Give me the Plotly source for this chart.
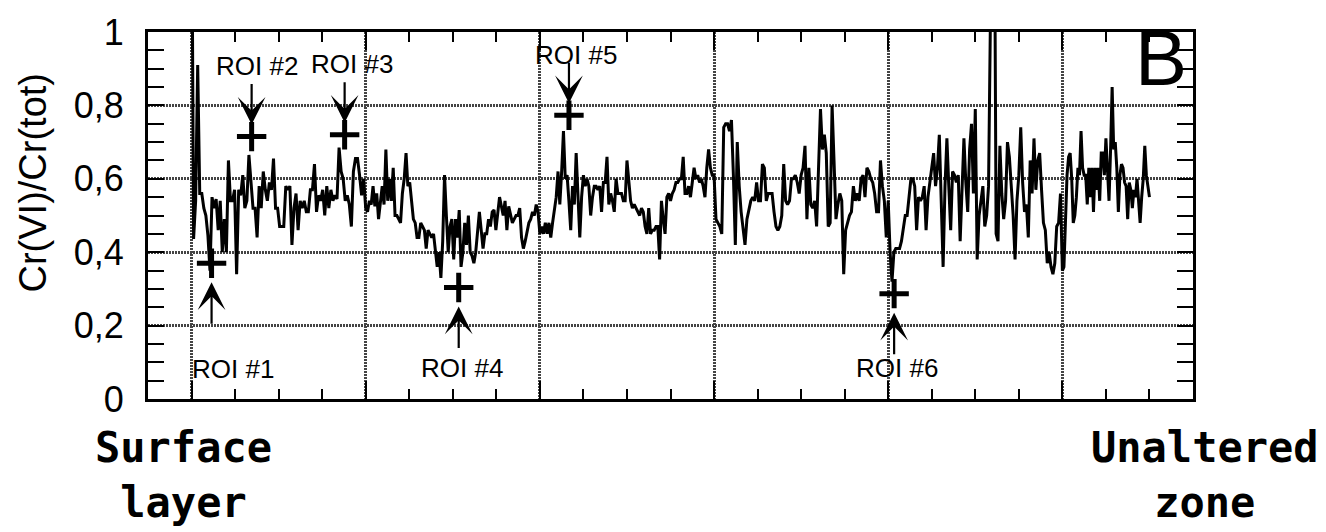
import numpy as np
import plotly.graph_objects as go

# Cr(VI)/Cr(tot) profile, one list per 100-unit depth interval
seg_0_100 = [1.5, 0.436, 0.54, 0.91, 0.56, 0.56, 0.52, 0.50, 0.445, 0.35,
             0.55, 0.52, 0.545, 0.46, 0.54, 0.40, 0.49, 0.40, 0.65, 0.54,
             0.54, 0.57, 0.34, 0.57, 0.555, 0.61, 0.52, 0.54, 0.665, 0.60,
             0.52, 0.52, 0.44, 0.58, 0.52, 0.62, 0.57, 0.54, 0.59, 0.57,
             0.655, 0.52, 0.52, 0.47, 0.47, 0.47, 0.58, 0.57, 0.58, 0.42,
             0.52, 0.56, 0.46, 0.54, 0.52, 0.54, 0.51, 0.51, 0.57, 0.57,
             0.64, 0.51, 0.555, 0.54, 0.57, 0.50, 0.58, 0.52, 0.57, 0.54,
             0.555, 0.545, 0.685, 0.62, 0.60, 0.54, 0.555, 0.53, 0.47, 0.62,
             0.655, 0.655, 0.61, 0.555, 0.60]
seg_100_200 = [0.52, 0.51, 0.54, 0.53, 0.58, 0.525, 0.56, 0.49, 0.54, 0.58,
               0.53, 0.68, 0.54, 0.60, 0.54, 0.63, 0.50, 0.50, 0.49, 0.48,
               0.56, 0.60, 0.67, 0.58, 0.59, 0.54, 0.49, 0.48, 0.44, 0.44,
               0.48, 0.47, 0.46, 0.41, 0.46, 0.45, 0.44, 0.45, 0.41, 0.36,
               0.40, 0.33, 0.43, 0.61, 0.50, 0.40, 0.47, 0.49, 0.38, 0.49,
               0.44, 0.515, 0.36, 0.40, 0.48, 0.42, 0.50, 0.40, 0.39, 0.37,
               0.40, 0.45, 0.51, 0.46, 0.41, 0.45, 0.45, 0.49, 0.47, 0.51,
               0.515, 0.46, 0.51, 0.55, 0.525, 0.50, 0.54, 0.46, 0.525, 0.50,
               0.48, 0.49, 0.50, 0.50, 0.52, 0.44, 0.41, 0.43, 0.46, 0.48,
               0.49, 0.51, 0.50, 0.53, 0.51]
seg_200_300 = [0.45, 0.47, 0.45, 0.48, 0.45, 0.48, 0.44, 0.48, 0.51, 0.55,
               0.62, 0.53, 0.62, 0.73, 0.60, 0.61, 0.54, 0.46, 0.58, 0.53,
               0.67, 0.54, 0.44, 0.55, 0.61, 0.58, 0.60, 0.58, 0.50, 0.55,
               0.58, 0.58, 0.57, 0.58, 0.51, 0.59, 0.59, 0.66, 0.53, 0.56,
               0.54, 0.51, 0.60, 0.56, 0.56, 0.56, 0.54, 0.54, 0.65, 0.59,
               0.54, 0.52, 0.53, 0.52, 0.51, 0.50, 0.52, 0.51, 0.47, 0.45,
               0.52, 0.45, 0.46, 0.46, 0.47, 0.47, 0.38, 0.54, 0.49, 0.45,
               0.55, 0.56, 0.54, 0.56, 0.57, 0.59, 0.59, 0.60, 0.60, 0.66,
               0.56, 0.56, 0.58, 0.55, 0.59, 0.63, 0.60, 0.61, 0.59, 0.60,
               0.58, 0.55, 0.63, 0.68, 0.63, 0.61]
seg_300_400 = [0.61, 0.49, 0.48, 0.47, 0.45, 0.74, 0.75, 0.75, 0.73, 0.76,
               0.61, 0.42, 0.70, 0.58, 0.51, 0.47, 0.42, 0.49, 0.52, 0.54,
               0.55, 0.54, 0.59, 0.54, 0.54, 0.64, 0.63, 0.54, 0.56, 0.56,
               0.56, 0.51, 0.47, 0.46, 0.47, 0.50, 0.64, 0.54, 0.53, 0.54,
               0.60, 0.60, 0.61, 0.59, 0.56, 0.61, 0.63, 0.69, 0.49, 0.63,
               0.53, 0.52, 0.54, 0.47, 0.63, 0.79, 0.68, 0.72, 0.67, 0.47,
               0.48, 0.80, 0.65, 0.49, 0.53, 0.56, 0.54, 0.34, 0.46, 0.48,
               0.50, 0.51, 0.58, 0.54, 0.56, 0.54, 0.60, 0.61, 0.55, 0.63,
               0.62, 0.60, 0.59, 0.56, 0.51, 0.51, 0.65, 0.58, 0.54, 0.44]
seg_400_500 = [0.54, 0.40, 0.32, 0.40, 0.41, 0.41, 0.41, 0.43, 0.47, 0.50,
               0.50, 0.55, 0.60, 0.60, 0.58, 0.46, 0.55, 0.54, 0.55, 0.58,
               0.46, 0.55, 0.60, 0.63, 0.67, 0.58, 0.63, 0.72, 0.54, 0.36,
               0.58, 0.71, 0.58, 0.46, 0.62, 0.61, 0.59, 0.61, 0.43, 0.55,
               0.71, 0.59, 0.51, 0.68, 0.75, 0.56, 0.79, 0.38, 0.50, 0.54,
               0.58, 0.47, 0.50, 0.58, 1.5, 1.5, 1.5, 0.45, 0.43, 0.69,
               0.56, 0.49, 0.54, 0.70, 0.66, 0.58, 0.50, 0.38, 0.54, 0.61,
               0.74, 0.59, 0.51, 0.53, 0.44, 0.65, 0.56, 0.71, 0.57, 0.65,
               0.67, 0.57, 0.48, 0.46, 0.37, 0.40, 0.36, 0.34, 0.37, 0.47,
               0.48, 0.56]
seg_500_550 = [0.35, 0.36, 0.47, 0.61, 0.66, 0.67, 0.60, 0.48, 0.50, 0.55,
               0.63, 0.61, 0.73, 0.63, 0.61, 0.61, 0.53, 0.63, 0.55, 0.63,
               0.51, 0.63, 0.57, 0.63, 0.54, 0.67, 0.67, 0.61, 0.71, 0.63,
               0.54, 0.68, 0.85, 0.68, 0.70, 0.63, 0.51, 0.61, 0.64, 0.63,
               0.59, 0.58, 0.49, 0.59, 0.57, 0.52, 0.57, 0.55, 0.60, 0.54,
               0.48, 0.55, 0.60, 0.69, 0.61, 0.58, 0.55]

segments = [(0, 100, seg_0_100), (100, 200, seg_100_200), (200, 300, seg_200_300),
            (300, 400, seg_300_400), (400, 500, seg_400_500), (500, 550, seg_500_550)]

depth, ratio = [], []
for start, stop, vals in segments:
    last = stop == 550
    depth.extend(np.linspace(start, stop, len(vals), endpoint=last))
    ratio.extend(vals)

# Regions of interest
roi_names = ["ROI #1", "ROI #2", "ROI #3", "ROI #4", "ROI #5", "ROI #6"]
roi_x = [11.5, 34.5, 87.9, 153.4, 216.7, 403.4]
roi_y = [0.37, 0.715, 0.72, 0.304, 0.773, 0.287]
roi_side = ["below", "above", "above", "below", "above", "below"]
roi_label_x = [23.6, 37.4, 92.0, 155.0, 221.0, 405.0]
roi_label_y = [0.081, 0.908, 0.913, 0.084, 0.937, 0.084]

y_ticks = [0, 0.2, 0.4, 0.6, 0.8, 1.0]
y_ticktext = ["0", "0,2", "0,4", "0,6", "0,8", "1"]

fig = go.Figure()
fig.add_trace(go.Scatter(x=depth, y=ratio, mode="lines",
                         line=dict(color="black", width=3), hoverinfo="skip"))
fig.add_trace(go.Scatter(x=roi_x, y=roi_y, mode="markers",
                         marker=dict(symbol="cross-thin", size=21,
                                     line=dict(color="black", width=5))))

annotations = []
for name, x, y, side, lx, ly in zip(roi_names, roi_x, roi_y, roi_side,
                                     roi_label_x, roi_label_y):
    below = side == "below"
    annotations.append(dict(x=x, y=y, xref="x", yref="y", text="", showarrow=True,
                            ax=0, ay=62 if below else -54,
                            standoff=19 if below else 12,
                            arrowhead=3, arrowsize=2.1,
                            arrowwidth=2.2, arrowcolor="black"))
    annotations.append(dict(x=lx, y=ly, xref="x", yref="y", text=name,
                            showarrow=False,
                            font=dict(family="Liberation Sans, Arial", size=26,
                                      color="black")))

annotations += [
    dict(x=-0.110, y=0.59, xref="paper", yref="paper", text="Cr(VI)/Cr(tot)",
         textangle=-90, xanchor="center", yanchor="middle", showarrow=False,
         font=dict(family="Liberation Sans, Arial", size=38, color="black")),
    dict(x=0.996, y=0.93, xref="paper", yref="paper", text="B",
         xanchor="right", yanchor="middle", showarrow=False,
         font=dict(family="Liberation Sans, Arial", size=78, color="black")),
    dict(x=0.0344, y=-0.06, xref="paper", yref="paper",
         text="<b>Surface</b><br><b>layer</b>", xanchor="center", yanchor="top",
         showarrow=False,
         font=dict(family="DejaVu Sans Mono", size=42, color="black")),
    dict(x=1.0115, y=-0.06, xref="paper", yref="paper",
         text="<b>Unaltered</b><br><b>zone</b>", xanchor="center", yanchor="top",
         showarrow=False,
         font=dict(family="DejaVu Sans Mono", size=42, color="black")),
]

grid_style = dict(showgrid=True, gridcolor="#444444", griddash="2px,1px", gridwidth=2.5)
axis_line = dict(showline=True, linecolor="black", linewidth=3, mirror="allticks",
                 ticks="inside", tickcolor="black", tickwidth=2, zeroline=False)

fig.update_xaxes(range=[-25, 575], tick0=0, dtick=100, ticklen=18,
                 showticklabels=False,
                 minor=dict(dtick=25, tick0=0, ticks="inside", ticklen=10,
                            tickwidth=2, tickcolor="black", showgrid=False),
                 **grid_style, **axis_line)
fig.update_yaxes(range=[0, 1], tickvals=y_ticks, ticktext=y_ticktext, ticklen=16,
                 ticklabelstandoff=14,
                 tickfont=dict(family="Liberation Sans, Arial", size=36, color="black"),
                 minor=dict(dtick=0.05, tick0=0, ticks="inside", ticklen=16,
                            tickwidth=2, tickcolor="black", showgrid=False),
                 **grid_style, **axis_line)

fig.update_layout(width=1326, height=532, margin=dict(l=148, r=133, t=29, b=133),
                  plot_bgcolor="white", paper_bgcolor="white", showlegend=False,
                  annotations=annotations)

fig.write_html("out.html")
